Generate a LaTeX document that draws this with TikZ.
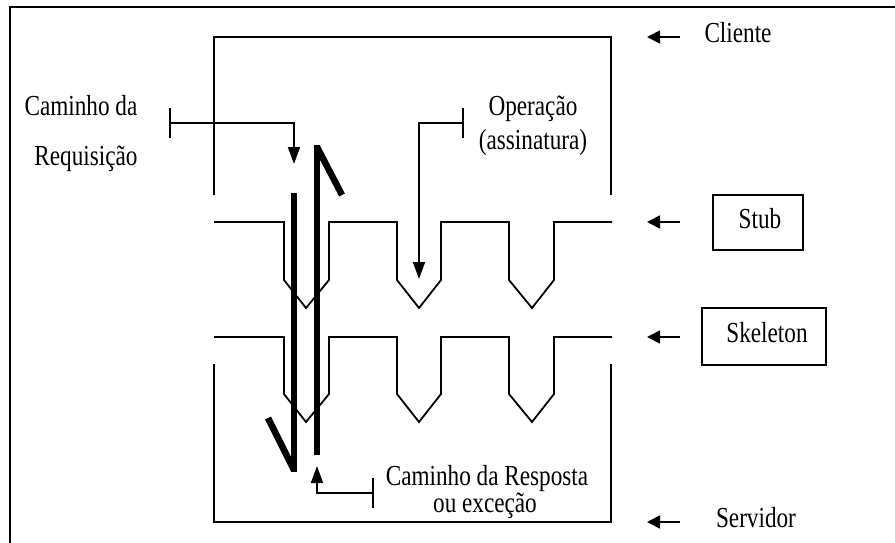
\documentclass[tikz,border=0pt]{standalone}
\usepackage{fontspec}
\setmainfont{Liberation Serif}[FakeStretch=0.8]
\usetikzlibrary{arrows.meta}
\begin{document}
\begin{tikzpicture}[x=1pt,y=-1pt,
  ln/.style={line width=1.8pt, line join=miter},
  bar/.style={line width=6.5pt, line cap=butt},
  tipln/.style={line width=1.8pt, -{Triangle[length=17pt,width=12pt]}},
  sidetip/.style={line width=1.8pt, -{Triangle[length=13pt,width=13pt]}},
  lbl/.style={inner sep=0pt, anchor=base, font=\fontsize{29}{30}\selectfont},
  boxed/.style={draw, line width=1.8pt, inner sep=0pt}
]
\useasboundingbox (0,0) rectangle (895,543);
% outer frame
\draw[line width=2.6pt] (10,543) -- (10,7) -- (895,7);
% client box
\draw[ln] (214,195) -- (214,37) -- (611,37) -- (611,195);
% server box
\draw[ln] (214,364) -- (214,522) -- (611,522) -- (611,364);
% stub line
\draw[ln] (214,222) -- (284,222) -- (284,280) -- (306,308) -- (329,280) -- (329,222)
  -- (397,222) -- (397,280) -- (419,308) -- (441,280) -- (441,222)
  -- (509,222) -- (509,280) -- (532,308) -- (554,280) -- (554,222) -- (612,222);
% skeleton line
\draw[ln] (214,337) -- (284,337) -- (284,394) -- (306,422) -- (329,394) -- (329,337)
  -- (397,337) -- (397,394) -- (419,422) -- (441,394) -- (441,337)
  -- (509,337) -- (509,394) -- (532,422) -- (554,394) -- (554,337) -- (612,337);
% request path
\coordinate (rqtop) at (294,193);
\coordinate (rqbot) at (294,470);
\coordinate (rqslant) at (268,418);
\draw[bar] (rqtop) -- ([yshift=-2pt]rqbot);
\draw[bar] (rqbot) -- (rqslant);
% response path
\coordinate (rsbot) at (317,455);
\coordinate (rstop) at (317,147);
\coordinate (rsslant) at (342,195);
\draw[bar] (rsbot) -- ([yshift=2pt]rstop);
\draw[bar] (rstop) -- (rsslant);
% labels
\node[lbl] (cam1) at (81,115) {Caminho da};
\node[lbl] (req) at (86,165) {Requisição};
\node[lbl] (op) at (533,115) {Operação};
\node[lbl] (ass) at (533,149) {(assinatura)};
\node[lbl] (cli) at (738,43) {Cliente};
\node[lbl] (ser) at (756,527) {Servidor};
\node[lbl] (res1) at (487,485) {Caminho da Resposta};
\node[lbl] (res2) at (485,512) {ou exceção};
\node[boxed, minimum width=90pt, minimum height=55pt] (stubbox) at (758,222.5) {};
\node[lbl] (stub) at (760,228) {Stub};
\node[boxed, minimum width=124pt, minimum height=57pt] (skelbox) at (764,336.5) {};
\node[lbl] (skel) at (767,342) {Skeleton};
% label pointers
\coordinate (rqbar1) at (170,108); \coordinate (rqbar2) at (170,138);
\coordinate (rqcorner) at (294,123); \coordinate (rqtip) at (294,164);
\draw[ln] (rqbar1) -- (rqbar2);
\draw[tipln] (rqbar1 |- rqcorner) -- (rqcorner) -- (rqtip);
\coordinate (opbar1) at (463,108); \coordinate (opbar2) at (463,138);
\coordinate (opcorner) at (419,123); \coordinate (optip) at (419,279);
\draw[ln] (opbar1) -- (opbar2);
\draw[tipln] (opbar1 |- opcorner) -- (opcorner) -- (optip);
\coordinate (rsbar1) at (373,478); \coordinate (rsbar2) at (373,508);
\coordinate (rscorner) at (317,493); \coordinate (rstip) at (317,466);
\draw[ln] (rsbar1) -- (rsbar2);
\draw[tipln] (rsbar1 |- rscorner) -- (rscorner) -- (rstip);
% right-side arrows
\foreach \y/\n in {37/a, 222/b, 337/c, 522/d} {
  \coordinate (s\n) at (680,\y); \coordinate (e\n) at (647,\y);
  \draw[sidetip] (s\n) -- (e\n);
}
\end{tikzpicture}
\end{document}
